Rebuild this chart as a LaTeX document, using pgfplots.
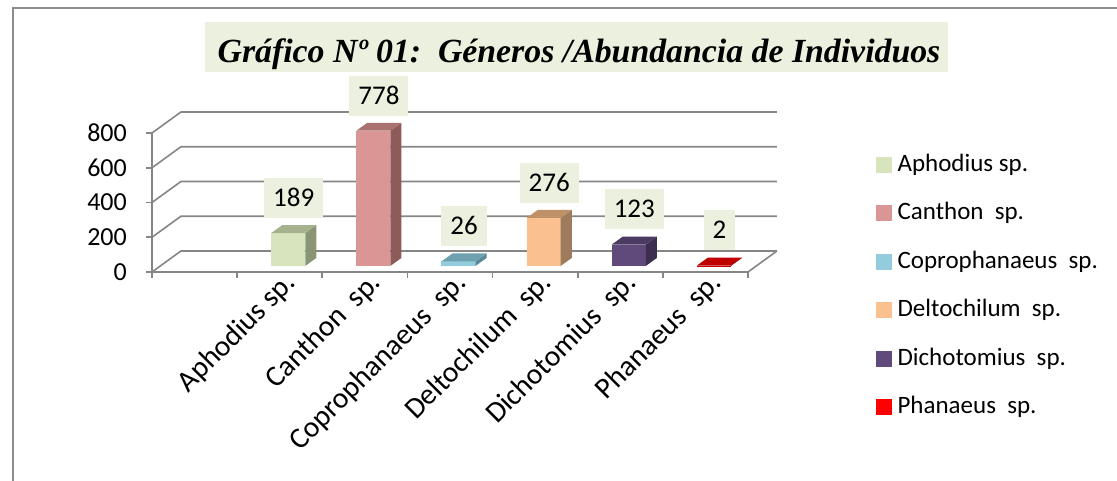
\documentclass[border=0pt]{standalone}
\usepackage{fontspec}
\setmainfont{Carlito}
\newfontfamily\titlefont{Liberation Serif}
\usepackage{pgfplots}
\pgfplotsset{compat=1.18}
\definecolor{gridgray}{RGB}{134,134,134}
\definecolor{framegray}{RGB}{140,140,140}
\definecolor{labelbg}{RGB}{235,241,222}
\definecolor{aphF}{RGB}{215,228,189}\definecolor{aphS}{RGB}{138,149,117}\definecolor{aphT}{RGB}{166,178,142}
\definecolor{canF}{RGB}{217,150,148}\definecolor{canS}{RGB}{142,91,90}\definecolor{canT}{RGB}{170,113,112}
\definecolor{copF}{RGB}{147,205,221}\definecolor{copS}{RGB}{90,138,153}\definecolor{copT}{RGB}{110,160,175}
\definecolor{delF}{RGB}{250,192,144}\definecolor{delS}{RGB}{158,123,93}\definecolor{delT}{RGB}{192,145,105}
\definecolor{dicF}{RGB}{96,74,123}\definecolor{dicS}{RGB}{60,46,80}\definecolor{dicT}{RGB}{75,58,98}
\definecolor{phaF}{RGB}{192,0,0}\definecolor{phaS}{RGB}{130,0,0}\definecolor{phaT}{RGB}{192,0,0}
\definecolor{phaL}{RGB}{255,0,0}
% 3D column: #1 slot index, #2 value, #3 front, #4 side, #5 top
\newcommand\threedbar[5]{%
 \pgfmathsetmacro\xa{#1+0.4}%
 \pgfmathsetmacro\xb{#1+0.8}%
 \pgfmathsetmacro\xc{#1+0.93}%
 \pgfmathsetmacro\xd{#1+0.53}%
 \pgfmathsetmacro\yb{35+#2}%
 \pgfmathsetmacro\yc{81+#2}%
 \edef\tmp{%
  \noexpand\addplot[fill=#3,draw=none,forget plot] coordinates {(\xa,35) (\xb,35) (\xb,\yb) (\xa,\yb)};
  \noexpand\addplot[fill=#4,draw=none,forget plot] coordinates {(\xb,35) (\xc,81) (\xc,\yc) (\xb,\yb)};
  \noexpand\addplot[fill=#5,draw=none,forget plot] coordinates {(\xa,\yb) (\xb,\yb) (\xc,\yc) (\xd,\yc)};
 }\tmp}
\newcommand\backline[1]{%
 \pgfmathsetmacro\yy{#1+121}%
 \edef\tmp{\noexpand\addplot[gridgray,line width=1.6bp,forget plot] coordinates {(0,#1) (0.34,\yy) (7.34,\yy)};}\tmp}
\begin{document}
\begin{tikzpicture}
\useasboundingbox (0,0) rectangle (1117bp,481bp);
\fill[white] (0,0) rectangle (1117bp,481bp);
\draw[framegray,line width=2bp] (13bp,0) -- (13bp,473bp) -- (1117bp,473bp);
\fill[labelbg] (205bp,409bp) rectangle (948bp,459bp);
\node[anchor=base,inner sep=0pt] at (579bp,418bp) {\titlefont\fontsize{33.8bp}{40bp}\selectfont\bfseries\itshape Gráfico Nº 01:\ \ Géneros /Abundancia de Individuos};
\begin{axis}[
  at={(152bp,209bp)}, anchor=south west,
  scale only axis, width=596bp, height=139bp,
  xmin=0, xmax=7, ymin=0, ymax=800,
  clip=false,
  axis x line*=bottom, axis y line*=left,
  axis line style={gridgray,line width=1.6bp,-},
  tick style={gridgray,line width=1.6bp},
  tick align=outside, major tick length=6bp,
  xtick={0,1,2,3,4,5,6,7}, xticklabels={},
  extra x ticks={1.5,2.5,3.5,4.5,5.5,6.5},
  extra x tick labels={Aphodius sp.,Canthon\ \ sp.,Coprophanaeus\ \ sp.,Deltochilum\ \ sp.,Dichotomius\ \ sp.,Phanaeus\ \ sp.},
  extra x tick style={major tick length=0pt,
    xticklabel style={rotate=45,anchor=east,inner sep=0pt,font=\fontsize{29.5bp}{32bp}\selectfont,xshift=4bp,yshift=-13bp}},
  ytick={0,200,400,600,800},
  yticklabel style={font=\fontsize{26bp}{30bp}\selectfont,inner sep=0pt,xshift=-19bp},
  /pgf/number format/assume math mode=true,
  legend style={at={(1.2097,0.878)},anchor=north west,draw=none,fill=none,
    font=\fontsize{25bp}{30bp}\selectfont,row sep=23.5bp,column sep=6bp,
    nodes={inner sep=0pt,text height=19bp,text depth=6bp}},
  legend cell align=left,
]
\backline{0}\backline{200}\backline{400}\backline{600}\backline{800}
\addplot[gridgray,line width=1.6bp,forget plot] coordinates {(7,0) (7.34,121)};
\threedbar{1}{189}{aphF}{aphS}{aphT}
\threedbar{2}{778}{canF}{canS}{canT}
\threedbar{3}{26}{copF}{copS}{copT}
\threedbar{4}{276}{delF}{delS}{delT}
\threedbar{5}{123}{dicF}{dicS}{dicT}
\threedbar{6}{2}{phaF}{phaS}{phaT}
\addplot[draw=none,mark=none,forget plot,nodes near coords,point meta=explicit,
  nodes near coords style={anchor=south,fill=labelbg,text=black,font=\fontsize{27bp}{30bp}\selectfont,
    inner xsep=9bp,inner ysep=11.5bp,text height=17bp,text depth=0pt,yshift=7bp}]
  coordinates {(1.665,270)[189] (2.665,859)[778] (3.665,107)[26] (4.665,357)[276] (5.665,204)[123] (6.665,83)[2]};
\addlegendimage{legend image code/.code={\fill[aphF] (0bp,-7.5bp) rectangle (15bp,7.5bp);}}
\addlegendentry{Aphodius sp.}
\addlegendimage{legend image code/.code={\fill[canF] (0bp,-7.5bp) rectangle (15bp,7.5bp);}}
\addlegendentry{Canthon\ \ sp.}
\addlegendimage{legend image code/.code={\fill[copF] (0bp,-7.5bp) rectangle (15bp,7.5bp);}}
\addlegendentry{Coprophanaeus\ \ sp.}
\addlegendimage{legend image code/.code={\fill[delF] (0bp,-7.5bp) rectangle (15bp,7.5bp);}}
\addlegendentry{Deltochilum\ \ sp.}
\addlegendimage{legend image code/.code={\fill[dicF] (0bp,-7.5bp) rectangle (15bp,7.5bp);}}
\addlegendentry{Dichotomius\ \ sp.}
\addlegendimage{legend image code/.code={\fill[phaL] (0bp,-7.5bp) rectangle (15bp,7.5bp);}}
\addlegendentry{Phanaeus\ \ sp.}
\end{axis}
\end{tikzpicture}
\end{document}
